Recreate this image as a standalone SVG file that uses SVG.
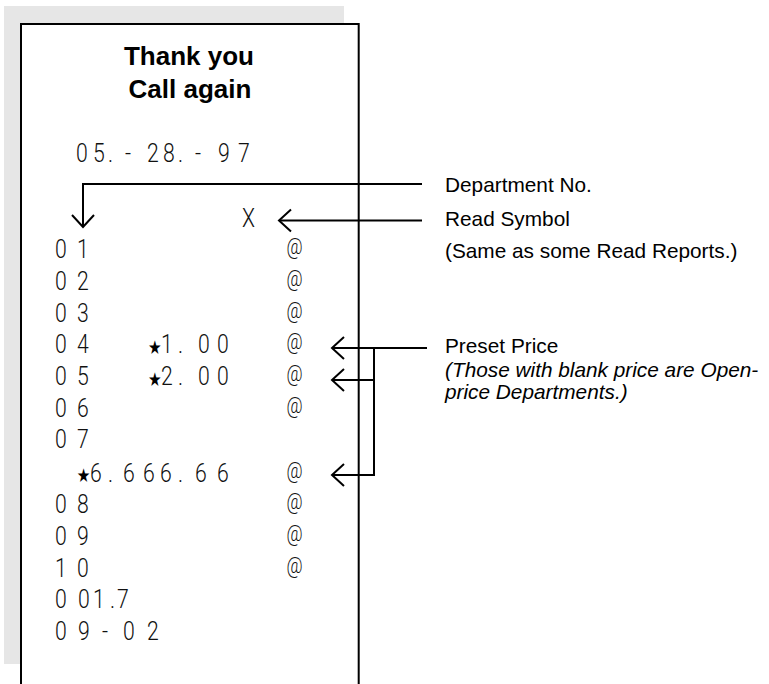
<svg xmlns="http://www.w3.org/2000/svg" width="769" height="684" viewBox="0 0 769 684">
<style>
.title{font-family:"Liberation Sans",Arial,sans-serif;font-weight:bold;font-size:26px;fill:#000;text-anchor:middle}
.lbl{font-family:"Liberation Sans",Arial,sans-serif;font-size:20.8px;fill:#000}
.it{font-style:italic}
.mono{font-family:Roboto,"Liberation Sans",sans-serif;font-weight:300;font-size:26.5px;fill:#111}
.at{font-family:Roboto,"Liberation Sans",sans-serif;font-weight:300;font-size:22px;fill:#111}
.star{font-family:"DejaVu Sans",sans-serif;font-size:19px;fill:#000}
.ln{fill:none;stroke:#000;stroke-width:2}
</style>
<defs>
<marker id="ah" markerUnits="userSpaceOnUse" markerWidth="16" markerHeight="26" refX="13" refY="12" orient="auto">
<path d="M1,1 L13,12 L1,23" fill="none" stroke="#000" stroke-width="2"/>
</marker>
</defs>
<rect x="4" y="6" width="340" height="658" fill="#e6e6e6"/>
<g id="receipt">
<rect x="21" y="24" width="337.7" height="670" fill="#fff"/>
<path class="ln" d="M21,684 V24 H358.7 V684"/>
<text class="title" x="189" y="65">Thank you</text>
<text class="title" x="190" y="98">Call again</text>
<g transform="scale(0.8 1)">
<text class="mono" x="95 116.25 135 156.25 183.75 203.75 222.5 243.75 272.5 297.5" y="162">05.-28.-97</text>
<text class="mono" x="302.5" y="226.7">X</text>
<text class="mono" x="68.75 96.25" y="258.3">01</text>
<text class="mono" x="68.75 96.25" y="290">02</text>
<text class="mono" x="68.75 96.25" y="321.7">03</text>
<text class="mono" x="68.75 96.25" y="353.3">04</text>
<text class="mono" x="68.75 96.25" y="385">05</text>
<text class="mono" x="68.75 96.25" y="416.7">06</text>
<text class="mono" x="68.75 96.25" y="448.3">07</text>
<text class="mono" x="68.75 96.25" y="513.3">08</text>
<text class="mono" x="68.75 96.25" y="545">09</text>
<text class="mono" x="68.75 96.25" y="576.7">10</text>
<text class="mono" x="68.75 97.5 116.25 137.5 146.25" y="608.3">001.7</text>
<text class="mono" x="68.75 97.5 127.5 153.75 183.75" y="640">09-02</text>
<text class="star" x="185" y="354">★</text>
<text class="mono" x="201.25 222.5 247.5 271.25" y="353.3">1.00</text>
<text class="star" x="185" y="385.7">★</text>
<text class="mono" x="201.25 222.5 247.5 271.25" y="385">2.00</text>
<text class="star" x="96" y="482.4">★</text>
<text class="mono" x="112.5 135 153.75 178.75 200 222.5 243.75 271.25" y="481.7">6.666.66</text>
<text class="at" x="358" y="254.3">@</text>
<text class="at" x="358" y="286">@</text>
<text class="at" x="358" y="317.7">@</text>
<text class="at" x="358" y="349.3">@</text>
<text class="at" x="358" y="381">@</text>
<text class="at" x="358" y="412.7">@</text>
<text class="at" x="358" y="477.7">@</text>
<text class="at" x="358" y="509.3">@</text>
<text class="at" x="358" y="541">@</text>
<text class="at" x="358" y="572.7">@</text>
</g>
</g>
<g id="connectors">
<path class="ln" d="M422,184 H83 V227" marker-end="url(#ah)"/>
<path class="ln" d="M422,220.5 H279" marker-end="url(#ah)"/>
<path class="ln" d="M427,348 H332" marker-end="url(#ah)"/>
<path class="ln" d="M374,347 V476"/>
<path class="ln" d="M374,380 H332" marker-end="url(#ah)"/>
<path class="ln" d="M374,475 H332" marker-end="url(#ah)"/>
</g>
<g id="label-dept"><text class="lbl" x="445" y="192">Department No.</text></g>
<g id="label-read">
<text class="lbl" x="445" y="226">Read Symbol</text>
<text class="lbl" x="445" y="258">(Same as some Read Reports.)</text>
</g>
<g id="label-preset">
<text class="lbl" x="445" y="353">Preset Price</text>
<text class="lbl it" x="445" y="377">(Those with blank price are Open-</text>
<text class="lbl it" x="445" y="399">price Departments.)</text>
</g>
</svg>
